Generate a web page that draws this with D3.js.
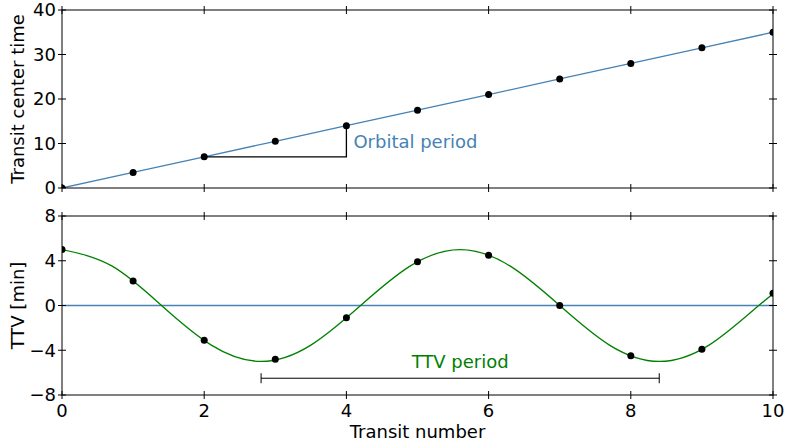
<!DOCTYPE html>
<html>
<head>
<meta charset="utf-8">
<script src="https://cdn.jsdelivr.net/npm/d3@7"></script>
<style>
  body { margin: 0; background: #fff; }
  text { font-family: "DejaVu Sans", sans-serif; }
</style>
</head>
<body>
<svg id="chart" width="786" height="443"></svg>
<script>
// transit numbers and observed values
const transitNumbers = [0, 1, 2, 3, 4, 5, 6, 7, 8, 9, 10];
const transitTimes = [0, 3.5, 7, 10.5, 14, 17.5, 21, 24.5, 28, 31.5, 35];
const ttvValues = [5.0, 2.2, -3.1, -4.8, -1.1, 3.9, 4.5, 0.0, -4.5, -3.9, 1.1];

// smooth TTV curve knots
const curveX = [0, 0.7, 1.4, 2.1, 2.8, 3.5, 4.2, 4.9, 5.6, 6.3, 7.0, 7.7, 8.4, 9.1, 9.8, 10.5];
const curveY = [5, 3.54, 0, -3.54, -5, -3.54, 0, 3.54, 5, 3.54, 0, -3.54, -5, -3.54, 0, 3.54];

// annotations
const periodTriangle = [[2, 7], [4, 7], [4, 14]];
const ttvBracket = { x0: 2.8, x1: 8.4, y: -6.5 };

const xTicks = [0, 2, 4, 6, 8, 10];
const topYTicks = [0, 10, 20, 30, 40];
const botYTicks = [-8, -4, 0, 4, 8];

const blue = "#4682b4";
const green = "#008000";
const fs = 18;

const svg = d3.select("#chart");
const left = 62, right = 773;

const x = d3.scaleLinear().domain([0, 10]).range([left, right]);
const yTop = d3.scaleLinear().domain([0, 40]).range([188, 10]);
const yBot = d3.scaleLinear().domain([-8, 8]).range([395, 216]);

function drawFrame(y, yTicks, showX) {
    const g = svg.append("g");
    const [y0, y1] = y.range();
    // x ticks on bottom and top, crossing the spine
    xTicks.forEach(t => {
        [y0, y1].forEach(yy => {
            g.append("line")
                .attr("x1", x(t)).attr("x2", x(t))
                .attr("y1", yy - 4).attr("y2", yy + 4)
                .attr("stroke", "#000").attr("stroke-width", 1);
        });
    });
    yTicks.forEach(t => {
        [left, right].forEach(xx => {
            g.append("line")
                .attr("x1", xx - 4).attr("x2", xx + 4)
                .attr("y1", y(t)).attr("y2", y(t))
                .attr("stroke", "#000").attr("stroke-width", 1);
        });
        g.append("text")
            .attr("x", left - 6).attr("y", y(t))
            .attr("dy", "0.36em")
            .attr("text-anchor", "end")
            .attr("font-size", fs)
            .text(t < 0 ? "\u2212" + Math.abs(t) : t);
    });
    g.append("rect")
        .attr("x", left).attr("y", y1)
        .attr("width", right - left).attr("height", y0 - y1)
        .attr("fill", "none").attr("stroke", "#000").attr("stroke-width", 1);
    if (showX) {
        xTicks.forEach(t => {
            g.append("text")
                .attr("x", x(t)).attr("y", y0 + 22)
                .attr("text-anchor", "middle")
                .attr("font-size", fs)
                .text(t);
        });
    }
}

// clip paths
const defs = svg.append("defs");
defs.append("clipPath").attr("id", "clipTop").append("rect")
    .attr("x", left).attr("y", 10).attr("width", right - left).attr("height", 178);
defs.append("clipPath").attr("id", "clipBot").append("rect")
    .attr("x", left).attr("y", 216).attr("width", right - left).attr("height", 179);

// ---- top panel ----
const topG = svg.append("g").attr("clip-path", "url(#clipTop)");
topG.append("path")
    .datum(transitNumbers.map((n, i) => [n, transitTimes[i]]))
    .attr("d", d3.line().x(d => x(d[0])).y(d => yTop(d[1])))
    .attr("fill", "none").attr("stroke", blue).attr("stroke-width", 1.3);

svg.append("path")
    .datum(periodTriangle)
    .attr("d", d3.line().x(d => x(d[0])).y(d => yTop(d[1])))
    .attr("fill", "none").attr("stroke", "#000").attr("stroke-width", 1.3);

topG.selectAll("circle")
    .data(transitNumbers)
    .join("circle")
    .attr("cx", d => x(d))
    .attr("cy", (d, i) => yTop(transitTimes[i]))
    .attr("r", 3.5)
    .attr("fill", "#000");

svg.append("text")
    .attr("x", x(4) + 7).attr("y", yTop(10.5))
    .attr("dy", "0.36em")
    .attr("font-size", fs)
    .attr("fill", blue)
    .text("Orbital period");

drawFrame(yTop, topYTicks, false);

svg.append("text")
    .attr("transform", `translate(24,${(10 + 188) / 2}) rotate(-90)`)
    .attr("text-anchor", "middle")
    .attr("font-size", fs)
    .text("Transit center time");

// ---- bottom panel ----
const botG = svg.append("g").attr("clip-path", "url(#clipBot)");
botG.append("line")
    .attr("x1", left).attr("x2", right)
    .attr("y1", yBot(0)).attr("y2", yBot(0))
    .attr("stroke", blue).attr("stroke-width", 1.6);

botG.append("path")
    .datum(curveX.map((v, i) => [v, curveY[i]]))
    .attr("d", d3.line().x(d => x(d[0])).y(d => yBot(d[1])).curve(d3.curveNatural))
    .attr("fill", "none").attr("stroke", green).attr("stroke-width", 1.3);

botG.selectAll("circle")
    .data(transitNumbers)
    .join("circle")
    .attr("cx", d => x(d))
    .attr("cy", (d, i) => yBot(ttvValues[i]))
    .attr("r", 3.5)
    .attr("fill", "#000");

// ttv period bracket
const by = yBot(ttvBracket.y);
svg.append("path")
    .attr("d", `M${x(ttvBracket.x0)},${by - 5}V${by + 5}M${x(ttvBracket.x0)},${by}H${x(ttvBracket.x1)}M${x(ttvBracket.x1)},${by - 5}V${by + 5}`)
    .attr("fill", "none").attr("stroke", "#000").attr("stroke-width", 1);

svg.append("text")
    .attr("x", x((ttvBracket.x0 + ttvBracket.x1) / 2)).attr("y", by - 10)
    .attr("text-anchor", "middle")
    .attr("font-size", fs)
    .attr("fill", green)
    .text("TTV period");

drawFrame(yBot, botYTicks, true);

svg.append("text")
    .attr("transform", `translate(24,${(216 + 395) / 2}) rotate(-90)`)
    .attr("text-anchor", "middle")
    .attr("font-size", fs)
    .text("TTV [min]");

svg.append("text")
    .attr("x", (left + right) / 2).attr("y", 438)
    .attr("text-anchor", "middle")
    .attr("font-size", fs)
    .text("Transit number");
</script>
</body>
</html>
